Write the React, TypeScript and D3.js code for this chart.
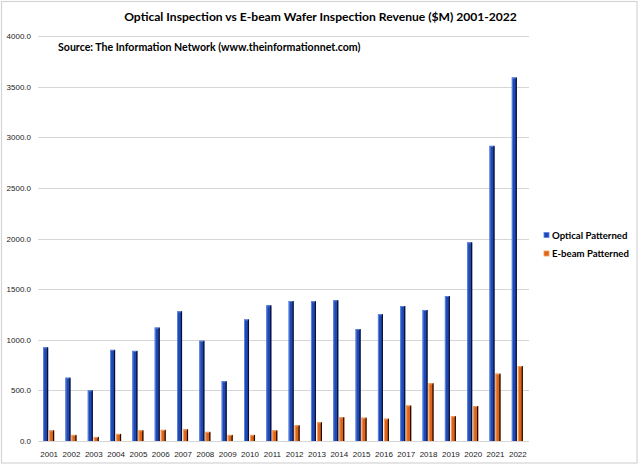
import React from "react";
import * as d3 from "d3";

const years = ["2001","2002","2003","2004","2005","2006","2007","2008","2009","2010","2011","2012","2013","2014","2015","2016","2017","2018","2019","2020","2021","2022"];
const optical = [925,625,500,900,890,1120,1280,990,590,1200,1340,1382,1380,1390,1105,1252,1333,1294,1432,1962,2915,3590];
const ebeam = [105,60,40,70,105,110,115,90,60,60,105,155,185,235,230,220,350,570,245,345,665,740];
const yTicks = [0,500,1000,1500,2000,2500,3000,3500,4000];
const seriesNames = ["Optical Patterned","E-beam Patterned"];

const W = 640, H = 465;
const left = 38, right = 529, top = 36, bottom = 441;

export default function App() {
  const x = d3.scaleBand<string>().domain(years).range([left, right]).padding(0);
  const y = d3.scaleLinear().domain([0, 4000]).range([bottom, top]);
  const bw = x.bandwidth();
  const barW = 5;
  const fmt = d3.format(".1f");
  const blue = { main: "#1f48b2", hi: "#5b86e6", sh: "#0a0f2a" };
  const orange = { main: "#df6318", hi: "#f4a060", sh: "#1a0a02" };
  const bar = (cx: number, v: number, c: any, key: string) => {
    const yt = y(v);
    const h = bottom - yt;
    return (
      <g key={key}>
        <rect x={cx} y={yt} width={barW} height={h} fill={c.main} />
        <rect x={cx} y={yt} width={1} height={h} fill={c.hi} />
        <rect x={cx + barW - 1.2} y={yt} width={1.2} height={h} fill={c.sh} />
        <rect x={cx} y={yt} width={barW - 1} height={1} fill={c.hi} />
      </g>
    );
  };
  return (
    <svg width={W} height={H} style={{ position: "absolute", left: 0, top: 0, background: "#fff" }} fontFamily="'Liberation Sans', Arial, sans-serif">
      <rect x={1.5} y={1.5} width={635.5} height={461.5} fill="#fff" stroke="#d4d4d4" strokeWidth={1.2} />
      {yTicks.map(t => (
        <g key={t}>
          <line x1={left} x2={right} y1={Math.round(y(t)) + 0.5} y2={Math.round(y(t)) + 0.5} stroke="#d6d6d6" strokeWidth={1} />
          <text x={31} y={y(t) + 3} fontSize={8} textAnchor="end" fill="#222">{fmt(t)}</text>
        </g>
      ))}
      {years.map((yr, i) => {
        const c = (x(yr) as number) + bw / 2;
        return (
          <g key={yr}>
            {bar(c - 6, optical[i], blue, "o" + yr)}
            {bar(c, ebeam[i], orange, "e" + yr)}
            <text x={c} y={457} fontSize={8} textAnchor="middle" fill="#222">{yr}</text>
          </g>
        );
      })}
      <text x={320.5} y={21} textAnchor="middle" fontFamily="Lato, 'Liberation Sans', sans-serif" fontWeight="bold" fontSize={12.1} fill="#000">Optical Inspection vs E-beam Wafer Inspection Revenue ($M) 2001-2022</text>
      <text x={58} y={51} fontFamily="Lato, 'Liberation Sans', sans-serif" fontWeight="bold" fontSize={10.6} fill="#000">Source: The Information Network (www.theinformationnet.com)</text>
      {seriesNames.map((n, i) => {
        const c = i === 0 ? blue : orange;
        const yy = 232.5 + i * 18.5;
        return (
          <g key={n}>
            <rect x={544} y={yy} width={5} height={5} fill={c.main} stroke={c.hi} strokeWidth={0.8} />
            <text x={552} y={yy + 6} fontFamily="Lato, 'Liberation Sans', sans-serif" fontWeight="bold" fontSize={9.6} fill="#000">{n}</text>
          </g>
        );
      })}
    </svg>
  );
}
